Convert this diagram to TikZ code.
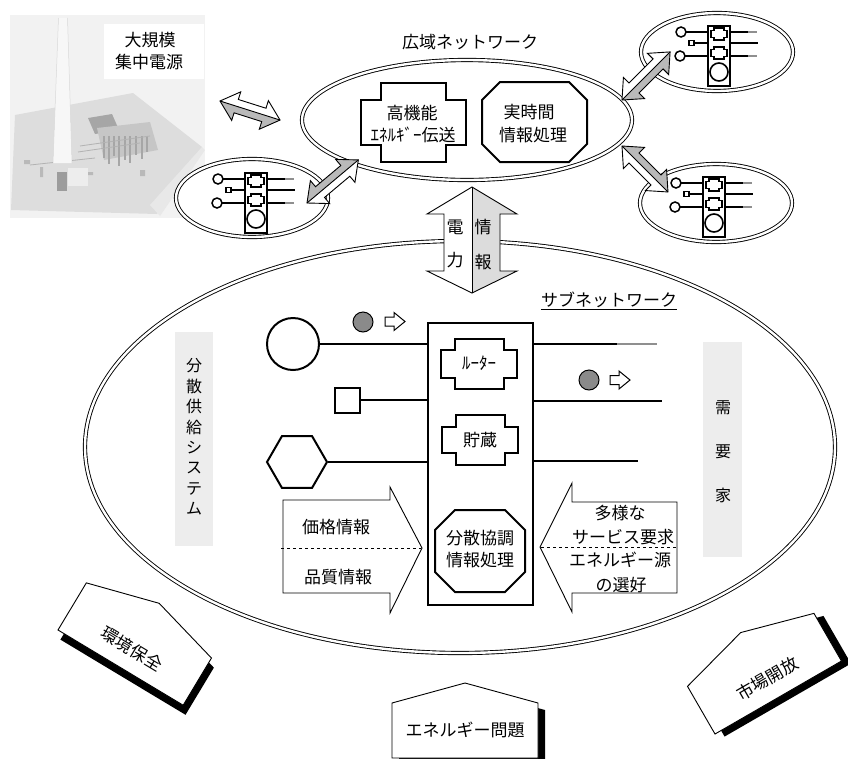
\documentclass[tikz,border=0pt]{standalone}
\usepackage{fontspec}
\setmainfont{Noto Sans CJK JP}
\usetikzlibrary{shapes.geometric}

\definecolor{halfshade}{HTML}{B9B9B9}
\definecolor{lightshade}{HTML}{DCDCDC}
\definecolor{panelgray}{HTML}{EDEDED}
\definecolor{dotgray}{HTML}{8A8A8A}
\definecolor{tailgray}{HTML}{8F8F8F}

% notched box: [options] cx cy outer-width outer-height inner-width inner-height
\newcommand{\notchbox}[7][]{%
  \draw[#1] ({#2-#6/2},{#3-#7/2}) -- ({#2+#6/2},{#3-#7/2}) -- ({#2+#6/2},{#3-#5/2})
    -- ({#2+#4/2},{#3-#5/2}) -- ({#2+#4/2},{#3+#5/2}) -- ({#2+#6/2},{#3+#5/2})
    -- ({#2+#6/2},{#3+#7/2}) -- ({#2-#6/2},{#3+#7/2}) -- ({#2-#6/2},{#3+#5/2})
    -- ({#2-#4/2},{#3+#5/2}) -- ({#2-#4/2},{#3-#5/2}) -- ({#2-#6/2},{#3-#5/2}) -- cycle;}

% octagon: [options] cx cy width height chamfer
\newcommand{\octobox}[6][]{%
  \draw[#1] ({#2-#4/2+#6},{#3-#5/2}) -- ({#2+#4/2-#6},{#3-#5/2}) -- ({#2+#4/2},{#3-#5/2+#6})
    -- ({#2+#4/2},{#3+#5/2-#6}) -- ({#2+#4/2-#6},{#3+#5/2}) -- ({#2-#4/2+#6},{#3+#5/2})
    -- ({#2-#4/2},{#3+#5/2-#6}) -- ({#2-#4/2},{#3-#5/2+#6}) -- cycle;}

% two-headed block arrow, half shaded: name, start, angle, length, shaded side (1/-1)
\newcommand{\twoway}[5]{%
  \begin{scope}[shift={#2}, rotate=#3]
    \coordinate (#1-a) at (0,0);
    \coordinate (#1-b) at (#4,0);
    \fill[white] (#1-a) -- (17,15) -- (17,7) -- ({#4-17},7) -- ({#4-17},15) -- (#1-b)
      -- ({#4-17},-15) -- ({#4-17},-7) -- (17,-7) -- (17,-15) -- cycle;
    \fill[halfshade] (#1-a) -- (17,{#5*15}) -- (17,{#5*7}) -- ({#4-17},{#5*7})
      -- ({#4-17},{#5*15}) -- (#1-b) -- cycle;
    \draw[line width=0.9pt] (#1-a) -- (17,15) -- (17,7) -- ({#4-17},7) -- ({#4-17},15) -- (#1-b)
      -- ({#4-17},-15) -- ({#4-17},-7) -- (17,-7) -- (17,-15) -- cycle;
    \draw[line width=0.9pt] (#1-a) -- (#1-b);
  \end{scope}}

% gable sign with drop shadow: name, origin, angle, text, text height
\newcommand{\signhouse}[5]{%
  \begin{scope}[shift={#2}, rotate=#3]
    \fill (7,7) -- (153,7) -- (153,-48) -- (80,-68) -- (7,-48) -- cycle;
    \draw[fill=white, line width=0.9pt] (0,0) -- (146,0) -- (146,-55) -- (73,-75) -- (0,-55) -- cycle;
    \node[label17, transform shape] (#1) at (73,-#5) {#4};
  \end{scope}}

\tikzset{
  dblline/.style={draw, line width=0.9pt, double=white, double distance=2.4pt},
  label17/.style={font=\fontsize{17}{20}\selectfont, inner sep=0pt},
  lanicon/.pic={
    \draw[line width=1.6pt] (0,0) rectangle (22,60);
    \notchbox[line width=1.3pt]{11}{8}{16}{7}{10}{12}
    \notchbox[line width=1.3pt]{11}{27}{16}{7}{10}{12}
    \draw[line width=1.6pt] (11,46) circle[radius=9pt];
    \draw[line width=1.5pt] (-27,6) circle[radius=5pt];
    \draw[line width=1.5pt] (-22,6) -- (0,6);
    \draw[line width=1.3pt] (-19,14.5) rectangle (-14,19.5);
    \draw[line width=1.5pt] (-14,17) -- (0,17);
    \draw[line width=1.5pt] (-28,30) circle[radius=5pt];
    \draw[line width=1.5pt] (-23,30) -- (0,30);
    \draw[line width=1.5pt] (22,6) -- (40,6);
    \draw[line width=1.5pt, tailgray] (40,6) -- (49,6);
    \draw[line width=1.5pt] (22,17) -- (50,17);
    \draw[line width=1.5pt] (22,30) -- (40,30);
    \draw[line width=1.5pt, tailgray] (40,30) -- (49,30);
  },
}

\begin{document}
\begin{tikzpicture}[x=1pt, y=-1pt, line join=miter]
\useasboundingbox (0,0) rectangle (848,758);

% ---------- large power station (stylised photograph)
\fill[gray!10] (10,15) rectangle (205,218);
\fill[white] (104,24) rectangle (204,79);
\fill[gray!27] (15,115) -- (133,93) -- (202,147) -- (157,214) -- (11,210) -- cycle;
\fill[gray!18] (150,205) -- (202,147) -- (205,150) -- (160,216) -- cycle;
\fill[gray!70] (88,118) -- (112,114) -- (119,130) -- (95,134) -- cycle;
\fill[gray!45] (97,128) -- (150,122) -- (158,150) -- (104,160) -- cycle;
\foreach \px/\ph in {103/22,108/28,113/20,118/30,124/24,129/27,135/19,141/23,146/16}
  \fill[gray!70] (\px,136) rectangle ++(2.2,\ph);
\draw[gray!60, line width=0.8pt] (80,146) -- (150,136) (78,152) -- (140,143) (30,165) -- (95,158);
\fill[gray!55] (24,160) rectangle ++(6,4) (40,167) rectangle ++(3,10) (85,172) rectangle ++(8,3) (140,170) rectangle ++(5,6);
\fill[gray!78] (57,172) rectangle (67,191);
\fill[gray!14] (68,168) rectangle (88,186);
\fill[gray!6] (58.5,18) -- (67.5,18) -- (72,163) -- (53,163) -- cycle;
\draw[gray!30, line width=0.5pt] (58.5,18) -- (53,163) (67.5,18) -- (72,163);
\node[label17] (plant1) at (150,40) {大規模};
\node[label17] (plant2) at (149,62) {集中電源};

% ---------- sub network boundary
\node[dblline, ellipse, minimum width=750, minimum height=412, inner sep=0] (lan) at (460,447) {};

% ---------- wide-area network
\node[label17] (wantitle) at (470,42) {広域ネットワーク};
\node[dblline, ellipse, fill=white, minimum width=330, minimum height=120, inner sep=0] (wan) at (467,120) {};
\notchbox[line width=2pt]{413}{122.5}{105}{45}{65}{79}
\node[label17] (hp1) at (412,113) {高機能};
\node[label17] (hp2) at (413,135) {ｴﾈﾙｷﾞｰ伝送};
\octobox[line width=2pt]{534.5}{122}{105}{80}{18}
\node[label17] (rt1) at (529,112) {実時間};
\node[label17] (rt2) at (533,135) {情報処理};

% ---------- local networks
\node[dblline, ellipse, fill=white, minimum width=152, minimum height=78, inner sep=0] (lanTR) at (717,52) {};
\node[dblline, ellipse, fill=white, minimum width=152, minimum height=78, inner sep=0] (lanBR) at (716,203) {};
\node[dblline, ellipse, fill=white, minimum width=152, minimum height=78, inner sep=0] (lanL) at (252,198) {};
\pic at (708,26) {lanicon};
\pic at (703,177) {lanicon};
\pic at (245,173) {lanicon};

% ---------- links between networks
\twoway{linkP}{(220,101)}{-17.6}{63}{1}
\twoway{linkL}{(307,203)}{40}{67}{-1}
\twoway{linkTR}{(622,100)}{45}{68}{1}
\twoway{linkBR}{(622,146)}{-45}{65}{-1}

% ---------- power / information exchange
\coordinate (pwtop) at (472,187);
\coordinate (pwbot) at (472,293);
\fill[white] (pwtop) -- (517,214) -- (500,214) -- (500,271) -- (517,271) -- (pwbot)
  -- (427,271) -- (444,271) -- (444,214) -- (427,214) -- cycle;
\fill[lightshade] (pwtop) -- (517,214) -- (500,214) -- (500,271) -- (517,271) -- (pwbot) -- cycle;
\draw[line width=0.9pt] (pwtop) -- (517,214) -- (500,214) -- (500,271) -- (517,271) -- (pwbot)
  -- (427,271) -- (444,271) -- (444,214) -- (427,214) -- cycle;
\draw[line width=0.9pt] (pwtop) -- (pwbot);
\node[label17] (pw1) at (455,227) {電};
\node[label17] (pw2) at (455,260) {力};
\node[label17] (in1) at (483,227) {情};
\node[label17] (in2) at (483,262) {報};

% ---------- side panels
\fill[panelgray] (175,332) rectangle (213,546);
\node[align=center, inner sep=0, font=\fontsize{16}{20.4}\selectfont] (supply) at (194,437) {分\\散\\供\\給\\シ\\ス\\テ\\ム};
\fill[panelgray] (703,342) rectangle (742,557);
\node[align=center, inner sep=0, font=\fontsize{16}{44}\selectfont] (demand) at (723,452) {需\\要\\家};

% ---------- sub network
\node[label17] (subtitle) at (609,300) {サブネットワーク};
\draw[line width=0.8pt] ([yshift=-1pt]subtitle.south west) -- ([yshift=-1pt]subtitle.south east);

\node[draw, line width=2.5pt, minimum width=105, minimum height=282, inner sep=0] (hub) at (480.5,464) {};
\node[circle, draw, line width=2pt, minimum size=52, inner sep=0] (src1) at (293,344) {};
\node[draw, line width=2pt, minimum size=25, inner sep=0] (src2) at (347,400) {};
\node[regular polygon, regular polygon sides=6, draw, line width=2pt, minimum size=60, inner sep=0] (src3) at (297,462) {};
\draw[line width=2pt] (src1) -- (src1 -| hub.west);
\draw[line width=2pt] (src2) -- (src2 -| hub.west);
\draw[line width=2pt] (src3) -- (src3 -| hub.west);

\coordinate (out1m) at (617,344);
\coordinate (out1) at (657,344);
\coordinate (out2) at (662,401);
\coordinate (out3) at (638,461);
\draw[line width=2pt] (hub.east |- out1m) -- (out1m);
\draw[line width=2pt, tailgray] (out1m) -- (out1);
\draw[line width=2pt] (hub.east |- out2) -- (out2);
\draw[line width=2pt] (hub.east |- out3) -- (out3);

% packets in transit
\node[circle, draw, fill=dotgray, line width=1pt, minimum size=20, inner sep=0] (pk1) at (363,322) {};
\draw[line width=1pt, fill=white] (385,317) -- (394,317) -- (394,312.5) -- (405,321.5) -- (394,330.5) -- (394,326) -- (385,326) -- cycle;
\node[circle, draw, fill=dotgray, line width=1pt, minimum size=20, inner sep=0] (pk2) at (589,380) {};
\draw[line width=1pt, fill=white] (610,375.5) -- (619,375.5) -- (619,371) -- (630,380) -- (619,389) -- (619,384.5) -- (610,384.5) -- cycle;

% node functions inside the hub
\notchbox[line width=2pt]{479}{364}{76}{28}{49}{50}
\node[label17] (router) at (479,363) {ﾙｰﾀｰ};
\notchbox[line width=2pt]{480}{440}{76}{26}{49}{50}
\node[label17] (store) at (480,440) {貯蔵};
\octobox[line width=2pt]{480}{551}{90}{82}{20}
\node[label17] (coop1) at (480,538) {分散協調};
\node[label17] (coop2) at (480,560) {情報処理};

% ---------- information flows into the hub
\draw[line width=0.9pt, fill=white] (283,500) -- (390,500) -- (390,487) -- (422,548) -- (390,613) -- (390,593) -- (283,593) -- cycle;
\draw[dashed, line width=0.9pt] (281,548) -- (421,548);
\node[label17] (price) at (336,527) {価格情報};
\node[label17] (quality) at (338,577) {品質情報};

\draw[line width=0.9pt, fill=white] (540,547) -- (572,483) -- (572,502) -- (677,502) -- (677,593) -- (572,593) -- (572,612) -- cycle;
\draw[dashed, line width=0.9pt] (541,547) -- (677,547);
\node[label17] (need1) at (620,513) {多様な};
\node[label17] (need2) at (623,537) {サービス要求};
\node[label17] (need3) at (620,560) {エネルギー源};
\node[label17] (need4) at (621,585) {の選好};

% ---------- surrounding issues
\signhouse{envsign}{(58,630)}{-31}{環境保全}{22}
\signhouse{mktsign}{(715,734)}{30}{市場開放}{22}
\signhouse{nrgsign}{(392,758)}{0}{エネルギー問題}{28}

\end{tikzpicture}
\end{document}
